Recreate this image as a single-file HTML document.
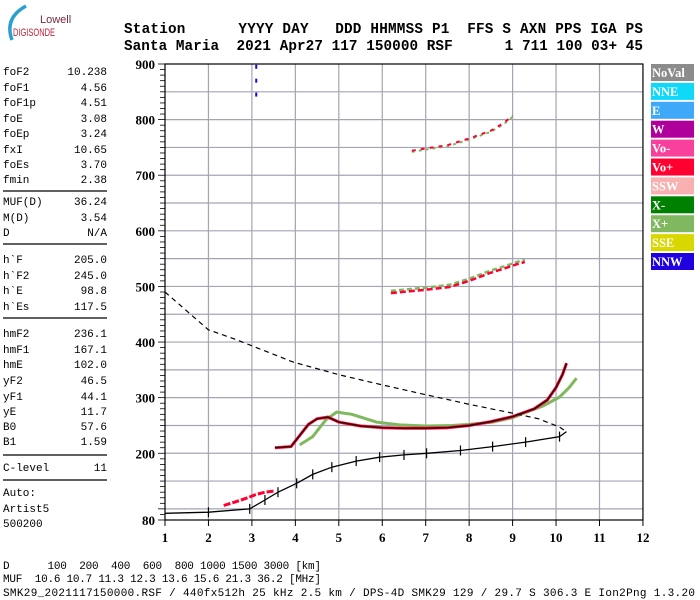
<!DOCTYPE html>
<html><head><meta charset="utf-8"><style>
html,body{margin:0;padding:0;background:#fff;}
svg{display:block;}
.m{font-family:"Liberation Mono",monospace;font-size:11px;fill:#000;}
.h{font-family:"Liberation Mono",monospace;font-size:14.3px;font-weight:bold;fill:#000;}
.ax{font-family:"Liberation Serif",serif;font-size:13px;font-weight:bold;fill:#000;}
.lg{font-family:"Liberation Serif",serif;font-size:12.5px;font-weight:bold;fill:#fff;}
</style></head><body>
<svg id="chart" width="700" height="600" viewBox="0 0 700 600" xmlns="http://www.w3.org/2000/svg">
<g>
<path d="M 12 40 Q 4 18 26 6" stroke="#2aa0d0" stroke-width="3.5" fill="none"/>
<text x="40" y="23" style="font-family:'Liberation Sans',sans-serif;font-size:11px;fill:#7a2a3a">Lowell</text>
<text x="13" y="36" style="font-family:'Liberation Sans',sans-serif;font-size:11px;fill:#c0203a" textLength="42" lengthAdjust="spacingAndGlyphs">DIGISONDE</text>
</g>
<g>
<text class="h" x="124" y="33" xml:space="preserve" textLength="519">Station      YYYY DAY   DDD HHMMSS P1  FFS S AXN PPS IGA PS</text>
<text class="h" x="124" y="50" xml:space="preserve" textLength="519">Santa Maria  2021 Apr27 117 150000 RSF      1 711 100 03+ 45</text>
</g>
<g id="left"></g>
<g id="plot"></g>
<g id="legend"></g>
<g>
<text class="m" x="3" y="569" xml:space="preserve" textLength="318">D      100  200  400  600  800 1000 1500 3000 [km]</text>
<text class="m" x="3" y="582" xml:space="preserve" textLength="318">MUF  10.6 10.7 11.3 12.3 13.6 15.6 21.3 36.2 [MHz]</text>
<text class="m" x="3" y="596" xml:space="preserve" textLength="692">SMK29_2021117150000.RSF / 440fx512h 25 kHz 2.5 km / DPS-4D SMK29 129 / 29.7 S 306.3 E Ion2Png 1.3.20</text>
</g>
</svg>
<script>
const params=[["foF2","10.238",71],["foF1","4.56",87],["foF1p","4.51",102],["foE","3.08",118],["foEp","3.24",133],["fxI","10.65",149],["foEs","3.70",164],["fmin","2.38",179],
["MUF(D)","36.24",201],["M(D)","3.54",217],["D","N/A",232],["h`F","205.0",259],["h`F2","245.0",275],["h`E","98.8",290],["h`Es","117.5",306],
["hmF2","236.1",333],["hmF1","167.1",349],["hmE","102.0",364],["yF2","46.5",380],["yF1","44.1",396],["yE","11.7",411],["B0","57.6",426],["B1","1.59",441],["C-level","11",467]];
const extra=[["Auto:",492],["Artist5",508],["500200",523]];
const sepLines=[191,244,318,455,480];
const yTicks=[900,800,700,600,500,400,300,200,80];
const xTicks=[1,2,3,4,5,6,7,8,9,10,11,12];
const legendNames=["NoVal","NNE","E","W","Vo-","Vo+","SSW","X-","X+","SSE","NNW"];
const legendColors=["#8c8c8c","#10d8f8","#40a8f8","#b0009c","#f8409c","#ff0030","#f8b0b0","#008000","#80b860","#d8d800","#2000e0"];
// O-mode trace (Vo+)
const oFreq=[3.53,3.9,4.1,4.3,4.5,4.75,5.0,5.5,6.0,6.5,7.0,7.5,8.0,8.5,9.0,9.5,9.8,10.0,10.15,10.24];
const oH=[210,212,232,252,262,265,256,249,246,245,245,246,250,257,266,280,296,318,342,362];
// X-mode trace (X+)
const xFreq=[4.1,4.4,4.7,4.95,5.3,5.87,6.4,7.0,7.6,8.0,8.54,9.0,9.32,9.7,10.08,10.3,10.47];
const xH=[215,230,260,274,270,256,251,249,250,252,256,264,274,285,301,318,335];
// True height profile
const pFreq=[1.0,2.0,2.95,3.3,3.6,4.03,4.4,4.84,5.4,5.94,6.5,7.02,7.8,8.54,9.3,10.08,10.24];
const pH=[92,94,100,116,130,146,162,175,186,193,197,200,205,212,220,230,239];
// Extrapolated (dashed) profile
const dFreq=[1.0,2.0,2.65,3.95,5.02,6.0,7.02,8.0,9.0,9.6,10.08,10.24];
const dH=[490,422,404,364,341,323,305,288,272,262,247,239];
// E/Es low traces
const eFreq=[2.35,2.6,2.9,3.1,3.3,3.5];
const eH=[106,112,120,126,130,132];
// second hop
const h2Freq=[6.2,6.6,7.0,7.55,8.0,8.47,8.8,9.1,9.28];
const h2H=[492,495,498,503,514,528,536,544,548];
// third hop
const h3Freq=[6.68,7.0,7.5,8.0,8.5,8.8,9.0];
const h3H=[742,746,752,764,778,792,805];
const fx=f=>165+(f-1)*43.45;
const hy=h=>520-(h-80)*0.5561;
const NS="http://www.w3.org/2000/svg";
function mk(tag,attrs,parent,txt){const e=document.createElementNS(NS,tag);for(const k in attrs)e.setAttribute(k,attrs[k]);if(txt!==undefined)e.textContent=txt;parent.appendChild(e);return e;}
const left=document.getElementById('left');
params.forEach(p=>{
 const a=mk('text',{x:3,y:p[2]+4,class:'m'},left,p[0]);
 
 
 const b=mk('text',{x:107,y:p[2]+4,class:'m','text-anchor':'end'},left,p[1]);
 
 
});
extra.forEach(p=>{const a=mk('text',{x:3,y:p[1]+4,class:'m'},left,p[0]);
 
 });
sepLines.forEach(y=>{const l=mk('line',{x1:3,x2:107,y1:y,y2:y,stroke:'#000','stroke-width':1.2},left);
 
 });
const plot=document.getElementById('plot');
for(let h=100;h<900;h+=50){const l=mk('line',{x1:165,x2:643,y1:hy(h),y2:hy(h),stroke:'#a4a4b4','stroke-width':1.2},plot);
 
 }
xTicks.forEach(f=>{if(f>1&&f<12){const l=mk('line',{x1:fx(f),x2:fx(f),y1:64,y2:520,stroke:'#a4a4b4','stroke-width':1.2},plot);
 
 }});
mk('rect',{x:165,y:hy(900),width:fx(12)-165,height:520-hy(900),fill:'none',stroke:'#000','stroke-width':1.2},plot);
for(let h=80;h<=900;h+=10){const major=(h%100===0)||h===80;mk('line',{x1:major?158:160,x2:165,y1:hy(h),y2:hy(h),stroke:'#000','stroke-width':0.8},plot);}
yTicks.forEach(h=>{const t=mk('text',{x:155,y:hy(h)+5,class:'ax','text-anchor':'end'},plot,String(h));
 
 });
xTicks.forEach(f=>{mk('line',{x1:fx(f),x2:fx(f),y1:520,y2:526,stroke:'#000'},plot);
 const t=mk('text',{x:fx(f),y:542,class:'ax','text-anchor':'middle'},plot,String(f));
 
 });
function pts(F,H){return F.map((f,i)=>fx(f).toFixed(1)+','+hy(H[i]).toFixed(1)).join(' ');}
function line(F,H,attrs,name){const p=mk('polyline',Object.assign({points:pts(F,H),fill:'none'},attrs),plot);
 
 return p;}
line(xFreq,xH,{stroke:'#80b860','stroke-width':3},'x-trace');
line(oFreq,oH,{stroke:'#ff0030','stroke-width':3},'o-trace');
line(oFreq,oH,{stroke:'#000','stroke-width':1.2},'o-fit-line');
line(eFreq,eH,{stroke:'#ff0030','stroke-width':3,'stroke-dasharray':'7 2'},'e-trace');
line(h2Freq,h2H,{stroke:'#80b860','stroke-width':2.5,'stroke-dasharray':'5 3'},'second-hop-x');
line(h2Freq,h2H.map(v=>v-4),{stroke:'#ff0030','stroke-width':2.5,'stroke-dasharray':'6 3'},'second-hop-o');
line(h3Freq,h3H,{stroke:'#80b860','stroke-width':2,'stroke-dasharray':'3 4'},'third-hop-x');
line(h3Freq,h3H.map(v=>v+2),{stroke:'#ff0030','stroke-width':2,'stroke-dasharray':'4 5'},'third-hop-o');
line(pFreq,pH,{stroke:'#000','stroke-width':1.3},'profile-line');
line(dFreq,dH,{stroke:'#000','stroke-width':1.2,'stroke-dasharray':'5 4'},'extrapolated-profile');
pFreq.forEach((f,i)=>{if(i>0&&i<pFreq.length-1){const t=mk('line',{x1:fx(f),x2:fx(f),y1:hy(pH[i])-5,y2:hy(pH[i])+5,stroke:'#000','stroke-width':1.2},plot);
 
 }});
[845,870,895].forEach(h=>{const r=mk('rect',{x:fx(3.1)-1,y:hy(h)-2,width:2,height:4,fill:'#2000e0'},plot);
 
 });
const lg=document.getElementById('legend');
legendNames.forEach((n,i)=>{const y=64+i*18.9;
 const r=mk('rect',{x:651,y:y,width:43,height:17,fill:legendColors[i]},lg);
 
 
 const t=mk('text',{x:652,y:y+13,class:'lg'},lg,n);
 
 });
</script>
</body></html>
